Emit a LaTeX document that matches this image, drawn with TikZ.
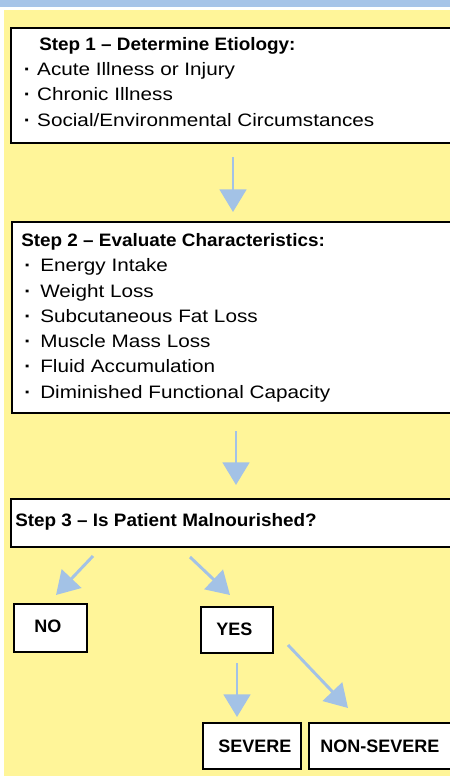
\documentclass[tikz,border=0pt]{standalone}
\usepackage{fontspec}
\setmainfont{Liberation Sans}[FakeStretch=1.15]
\newfontfamily\titlef{Liberation Sans}[FakeStretch=1.05]
\newfontfamily\outf{Liberation Sans}
\usetikzlibrary{arrows.meta}
\definecolor{hdrblue}{HTML}{A6C4E8}
\definecolor{bgyellow}{HTML}{FFF599}
\definecolor{arrblue}{HTML}{A3C2E6}
\newcommand{\bdot}[1]{\makebox[#1][l]{\bfseries ·}}
\begin{document}
\begin{tikzpicture}[x=0.75pt,y=-0.75pt,
  box/.style={draw=black, line width=1.1pt, fill=white, rectangle, inner sep=0pt, outer sep=0pt, anchor=north west},
  txt/.style={anchor=base west, inner sep=0pt, font=\fontsize{13.5pt}{16pt}\selectfont},
  ttl/.style={anchor=base west, inner sep=0pt, font=\fontsize{13.5pt}{16pt}\selectfont\titlef\bfseries},
  outc/.style={anchor=base west, inner sep=0pt, font=\fontsize{13.5pt}{16pt}\selectfont\outf\bfseries},
  arr/.style={draw=arrblue, line width=2.2pt, -{Triangle[width=20pt,length=17pt]}}]
\useasboundingbox (0,0) rectangle (450,776);
\clip (0,0) rectangle (450,776);
\fill[hdrblue] (0,0) rectangle (450,7);
\fill[bgyellow] (4,10) rectangle (450,776);

% boxes
\node[box, minimum width=460*0.75pt, minimum height=115*0.75pt] (s1) at (11,28) {};
\node[box, minimum width=460*0.75pt, minimum height=191*0.75pt] (s2) at (12,222) {};
\node[box, minimum width=460*0.75pt, minimum height=48*0.75pt] (s3) at (11,499) {};
\node[box, minimum width=73*0.75pt, minimum height=48*0.75pt] (no) at (14,604) {};
\node[box, minimum width=72*0.75pt, minimum height=46*0.75pt] (yes) at (201,607) {};
\node[box, minimum width=98*0.75pt, minimum height=46*0.75pt] (sev) at (203,723) {};
\node[box, minimum width=160*0.75pt, minimum height=46*0.75pt] (non) at (309,723) {};

% step 1 text
\node[ttl] (t1) at (39,50.5) {Step 1 – Determine Etiology:};
\node[txt] (t1a) at (23.5,75) {\bdot{10.1pt}Acute Illness or Injury};
\node[txt] (t1b) at (23.5,100.5) {\bdot{10.1pt}Chronic Illness};
\node[txt] (t1c) at (23.5,126.5) {\bdot{10.1pt}Social/Environmental Circumstances};

% step 2 text
\node[ttl] (t2) at (21,246) {Step 2 – Evaluate Characteristics:};
\node[txt] (t2a) at (24,271) {\bdot{12pt}Energy Intake};
\node[txt] (t2b) at (24,297) {\bdot{12pt}Weight Loss};
\node[txt] (t2c) at (24,322.3) {\bdot{12pt}Subcutaneous Fat Loss};
\node[txt] (t2d) at (24,347.5) {\bdot{12pt}Muscle Mass Loss};
\node[txt] (t2e) at (24,372.7) {\bdot{12pt}Fluid Accumulation};
\node[txt] (t2f) at (24,398) {\bdot{12pt}Diminished Functional Capacity};

% step 3 and outcomes
\node[ttl] (t3) at (15,526.7) {Step 3 – Is Patient Malnourished?};
\node[outc] (tno) at (34,632.7) {NO};
\node[outc] (tyes) at (216,635) {YES};
\node[outc] (tsev) at (218,752.3) {SEVERE};
\node[outc] (tnon) at (320,752.3) {NON-SEVERE};

% arrows
\draw[arr] ([shift={(222,14)}]s1.south west) -- ([shift={(221,-10)}]s2.north west);
\draw[arr] ([shift={(224,18)}]s2.south west) -- ([shift={(225,-14)}]s3.north west);
\draw[arr] ([shift={(82,9)}]s3.south west) -- ([shift={(42,-9)}]no.north west);
\draw[arr] ([shift={(179,10)}]s3.south west) -- ([shift={(29,-12)}]yes.north west);
\draw[arr] ([shift={(36,10)}]yes.south west) -- ([shift={(34,-6)}]sev.north west);
\draw[arr] ([shift={(15,-8)}]yes.south east) -- ([shift={(39,-15)}]non.north west);
\end{tikzpicture}
\end{document}
